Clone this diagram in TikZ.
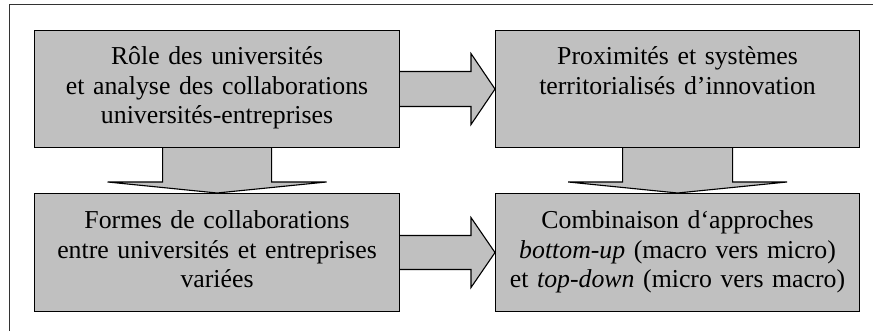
\documentclass[tikz,border=0pt]{standalone}
\usepackage{fontspec}
\setmainfont{Liberation Serif}
\usetikzlibrary{calc,backgrounds}
\definecolor{boxgray}{HTML}{C0C0C0}
\definecolor{framecol}{HTML}{333333}
\begin{document}
\begin{tikzpicture}[x=1pt,y=-1pt,
  stepbox/.style={draw=black,fill=boxgray,line width=1.1pt,inner sep=0pt,
    anchor=north west,text width=#1,align=center,text height=34pt,text depth=83pt,
    font=\fontsize{25.8}{29.5}\selectfont},
  stepbox/.default=365pt,
  blockarrow/.style={draw=black,fill=boxgray,line width=1.1pt,line join=miter},
  framestyle/.style={draw=framecol,line width=1pt}]
\useasboundingbox (0,0) rectangle (873,331);
\draw[framestyle] (9,335) -- (9,5) -- (876,5);

\node[stepbox] (A) at (34,30) {Rôle des universités\\et analyse des collaborations\\universités-entreprises};
\node[stepbox=364pt] (B) at (495,30) {Proximités et systèmes\\territorialisés d’innovation};
\node[stepbox,text height=35pt] (C) at (34,193) {Formes de collaborations\\entre universités et entreprises\\variées};
\node[stepbox=364pt,text height=35pt] (D) at (495,193) {Combinaison d‘approches\\\textit{bottom-up} (macro vers micro)\\et \textit{top-down} (micro vers macro)};

\begin{pgfonlayer}{background}
% right arrows
\draw[blockarrow] ($(A.east)+(0,-17.5)$) -- ($(B.west)+(-24,-17.5)$) -- ($(B.west)+(-24,-35.5)$)
  -- (B.west) -- ($(B.west)+(-24,35.5)$) -- ($(B.west)+(-24,17.5)$) -- ($(A.east)+(0,17.5)$);
\draw[blockarrow] ($(C.east)+(0,-17)$) -- ($(D.west)+(-24,-17)$) -- ($(D.west)+(-24,-35)$)
  -- (D.west) -- ($(D.west)+(-24,35)$) -- ($(D.west)+(-24,17)$) -- ($(C.east)+(0,17)$);
% down arrows
\draw[blockarrow] ($(A.south)+(-54.5,0)$) -- ($(C.north)+(-54.5,-11)$) -- ($(C.north)+(-109.5,-11)$)
  -- (C.north) -- ($(C.north)+(109.5,-11)$) -- ($(C.north)+(54.5,-11)$) -- ($(A.south)+(54.5,0)$);
\draw[blockarrow] ($(B.south)+(-55,0)$) -- ($(D.north)+(-55,-11)$) -- ($(D.north)+(-109.5,-11)$)
  -- (D.north) -- ($(D.north)+(109.5,-11)$) -- ($(D.north)+(55,-11)$) -- ($(B.south)+(55,0)$);
\end{pgfonlayer}
\end{tikzpicture}
\end{document}
